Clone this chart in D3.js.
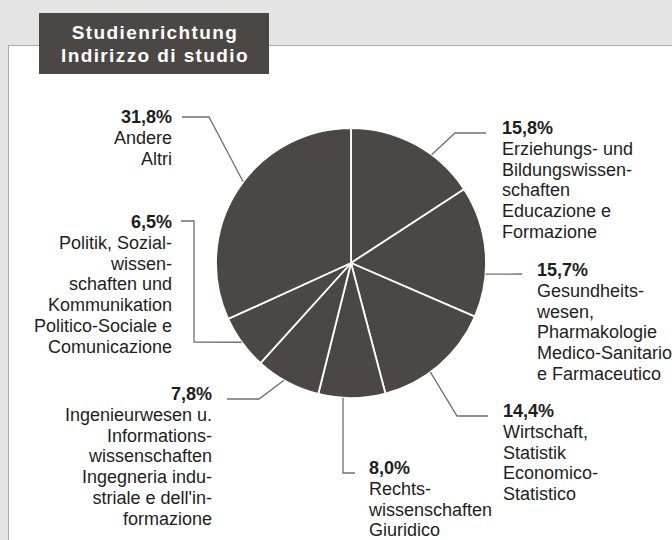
<!DOCTYPE html>
<html>
<head>
<meta charset="utf-8">
<script src="https://cdn.jsdelivr.net/npm/d3@7"></script>
<style>
  html, body { margin: 0; padding: 0; background: #e4e4e4; }
  svg { display: block; font-family: "Liberation Sans", Arial, sans-serif; }
</style>
</head>
<body>
<div id="chart"></div>
<script>
// slice values in drawing order (clockwise from 12 o'clock)
var shares = [15.8, 15.7, 14.4, 8.0, 7.8, 6.5, 31.8];

var categoryLines = [
    ["Erziehungs- und", "Bildungswissen-", "schaften", "Educazione e", "Formazione"],
    ["Gesundheits-", "wesen,", "Pharmakologie", "Medico-Sanitario", "e Farmaceutico"],
    ["Wirtschaft,", "Statistik", "Economico-", "Statistico"],
    ["Rechts-", "wissenschaften", "Giuridico"],
    ["Ingenieurwesen u.", "Informations-", "wissenschaften", "Ingegneria indu-", "striale e dell'in-", "formazione"],
    ["Politik, Sozial-", "wissen-", "schaften und", "Kommunikation", "Politico-Sociale e", "Comunicazione"],
    ["Andere", "Altri"]
];

var titleLines = ["Studienrichtung", "Indirizzo di studio"];

// label placement: where the leader leaves the slice (fraction of its span),
// the bends of the leader, and where the text block sits
var labelLayout = [
    { t: 0.645, bends: [[455, 133], [486, 133]], x: 502, y: 128, anchor: "start" },
    { t: 0.67,  bends: [[522, 274]],             x: 537, y: 270, anchor: "start" },
    { t: 0.59,  bends: [[457, 416], [488, 416]], x: 503, y: 411, anchor: "start" },
    { t: 0.63,  bends: [[343, 473], [355, 473]], x: 369, y: 468, anchor: "start" },
    { t: 0.56,  bends: [[259, 399], [227, 399]], x: 212, y: 394, anchor: "end" },
    { t: 0.51,  bends: [[194, 342], [194, 221], [181, 221]], x: 172, y: 222, anchor: "end" },
    { t: 0.537, bends: [[209, 117], [182, 117]], x: 172, y: 117, anchor: "end" }
];

var width = 672, height = 540;
var cx = 351, cy = 263, radius = 135;
var lineHeight = 20.7;
var darkColor = "#4b4745";

var locale = d3.formatLocale({ decimal: ",", thousands: ".", grouping: [3], currency: ["", "€"] });
var pctFormat = locale.format(".1f");

var svg = d3.select("#chart").append("svg")
    .attr("width", width)
    .attr("height", height);

// white panel with grey border
svg.append("rect")
    .attr("x", 8.5)
    .attr("y", 45.5)
    .attr("width", width + 20)
    .attr("height", height + 20)
    .attr("fill", "#ffffff")
    .attr("stroke", "#a9a9a9")
    .attr("stroke-width", 1);

// title box
svg.append("rect")
    .attr("x", 39)
    .attr("y", 13)
    .attr("width", 230)
    .attr("height", 61)
    .attr("fill", darkColor);

svg.append("g").selectAll("text")
    .data(titleLines)
    .enter().append("text")
    .attr("x", 155)
    .attr("y", function (d, i) { return 39 + i * 23; })
    .attr("text-anchor", "middle")
    .attr("fill", "#ffffff")
    .attr("font-size", 19)
    .attr("font-weight", "bold")
    .attr("letter-spacing", 1.4)
    .text(function (d) { return d; });

// pie
var pie = d3.pie().sort(null).value(function (d) { return d; });
var arcs = pie(shares);

var arc = d3.arc()
    .innerRadius(0)
    .outerRadius(radius);

var g = svg.append("g")
    .attr("transform", "translate(" + cx + "," + cy + ")");

g.selectAll("path")
    .data(arcs)
    .enter().append("path")
    .attr("d", arc)
    .attr("fill", darkColor)
    .attr("stroke", "#ffffff")
    .attr("stroke-width", 1.8)
    .attr("stroke-linejoin", "round");

// leader lines
var line = d3.line();
svg.append("g").selectAll("path")
    .data(arcs)
    .enter().append("path")
    .attr("d", function (d, i) {
        var lay = labelLayout[i];
        var a = d.startAngle + lay.t * (d.endAngle - d.startAngle);
        var start = [cx + radius * Math.sin(a), cy - radius * Math.cos(a)];
        return line([start].concat(lay.bends));
    })
    .attr("fill", "none")
    .attr("stroke", "#6f6f6f")
    .attr("stroke-width", 1.3);

// labels
var labels = svg.append("g").selectAll("text")
    .data(arcs)
    .enter().append("text")
    .attr("x", function (d, i) { return labelLayout[i].x; })
    .attr("y", function (d, i) { return labelLayout[i].y + 6.3; })
    .attr("text-anchor", function (d, i) { return labelLayout[i].anchor; })
    .attr("fill", "#1e1e1e")
    .attr("font-size", 18);

labels.append("tspan")
    .attr("font-weight", "bold")
    .text(function (d) { return pctFormat(d.data) + "%"; });

labels.each(function (d, i) {
    var el = d3.select(this);
    categoryLines[i].forEach(function (txt) {
        el.append("tspan")
            .attr("x", labelLayout[i].x)
            .attr("dy", lineHeight)
            .text(txt);
    });
});
</script>
</body>
</html>
